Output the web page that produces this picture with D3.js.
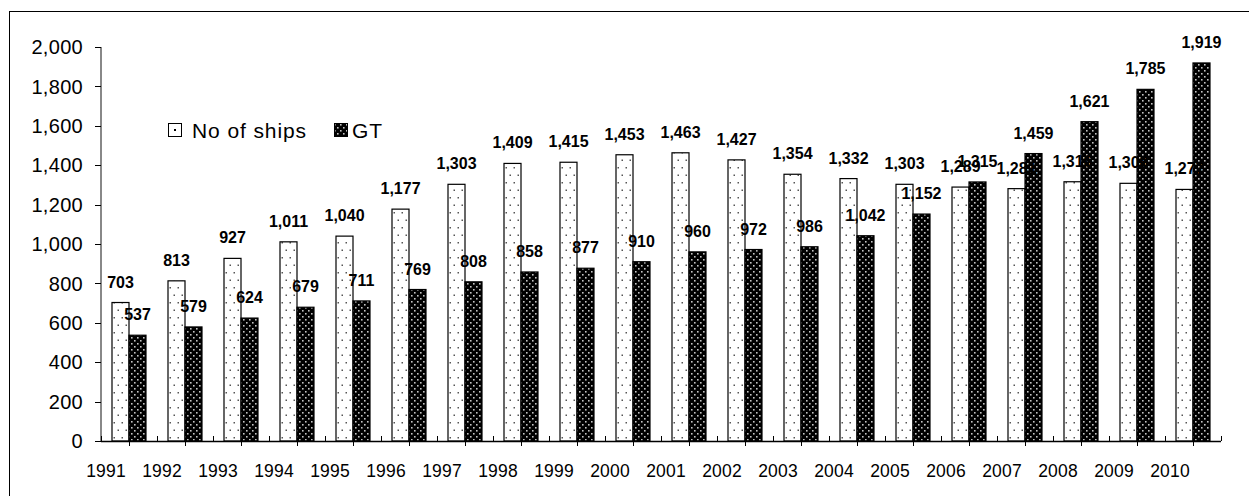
<!DOCTYPE html>
<html>
<head>
<meta charset="utf-8">
<script src="https://cdn.jsdelivr.net/npm/d3@7"></script>
<style>
  html, body { margin: 0; padding: 0; background: #fff; }
  svg { display: block; font-family: "Liberation Sans", Arial, sans-serif; }
</style>
</head>
<body>
<svg id="chart" width="1249" height="496"></svg>
<script>
// Ship registry: number of ships and gross tonnage by year
const years = ["1991","1992","1993","1994","1995","1996","1997","1998","1999","2000",
               "2001","2002","2003","2004","2005","2006","2007","2008","2009","2010"];
const ships = [703, 813, 927, 1011, 1040, 1177, 1303, 1409, 1415, 1453,
               1463, 1427, 1354, 1332, 1303, 1289, 1281, 1316, 1308, 1277];
const gt    = [537, 579, 624, 679, 711, 769, 808, 858, 877, 910,
               960, 972, 986, 1042, 1152, 1315, 1459, 1621, 1785, 1919];
const yTicks = [0, 200, 400, 600, 800, 1000, 1200, 1400, 1600, 1800, 2000];
const seriesNames = ["No of ships", "GT"];

const svg = d3.select("#chart");
const fmt = d3.format(",");

// patterns: light dotted fill and dark dotted fill
const defs = svg.append("defs");
const pLight = defs.append("pattern").attr("id", "pLight")
  .attr("patternUnits", "userSpaceOnUse").attr("width", 8).attr("height", 15);
pLight.append("rect").attr("width", 8).attr("height", 15).attr("fill", "#fff");
pLight.append("rect").attr("x", 1.5).attr("y", 2).attr("width", 1.5).attr("height", 1.5).attr("fill", "#555");
pLight.append("rect").attr("x", 5.5).attr("y", 9.5).attr("width", 1.5).attr("height", 1.5).attr("fill", "#555");

const pDark = defs.append("pattern").attr("id", "pDark")
  .attr("patternUnits", "userSpaceOnUse").attr("width", 6).attr("height", 6);
pDark.append("rect").attr("width", 6).attr("height", 6).attr("fill", "#000");
pDark.append("rect").attr("x", 1).attr("y", 1).attr("width", 1.6).attr("height", 1.6).attr("fill", "#c4c4c4");
pDark.append("rect").attr("x", 4).attr("y", 4).attr("width", 1.6).attr("height", 1.6).attr("fill", "#c4c4c4");

// outer frame
svg.append("rect").attr("x", 9.5).attr("y", 11.5).attr("width", 1400).attr("height", 700)
  .attr("fill", "none").attr("stroke", "#000").attr("stroke-width", 1);

const x0 = 101, x1 = 1221, yTop = 47, yBase = 441;
const x = d3.scaleBand().domain(years).range([x0, x1]).paddingInner(0).paddingOuter(0);
const y = d3.scaleLinear().domain([0, 2000]).range([yBase, yTop]);
const barW = 17;
const groupPad = (x.bandwidth() - 2 * barW) / 2;

// y axis
const yAxis = svg.append("g");
yAxis.append("line").attr("x1", x0).attr("x2", x0).attr("y1", yTop).attr("y2", yBase)
  .attr("stroke", "#888").attr("stroke-width", 2);
yAxis.selectAll("line.tick").data(yTicks).join("line").attr("class", "tick")
  .attr("x1", x0 - 6).attr("x2", x0).attr("y1", d => Math.round(y(d)) + 0.5).attr("y2", d => Math.round(y(d)) + 0.5)
  .attr("stroke", "#000").attr("stroke-width", 1);
yAxis.selectAll("text").data(yTicks).join("text")
  .attr("x", 83).attr("y", d => y(d)).attr("dy", "0.36em")
  .attr("text-anchor", "end").attr("font-size", 20).attr("letter-spacing", 0.3).attr("fill", "#000")
  .text(d => fmt(d));

// bars
const groups = svg.append("g").selectAll("g").data(years).join("g")
  .attr("transform", d => `translate(${x(d) + groupPad},0)`);
groups.append("rect")
  .attr("x", 0).attr("width", barW)
  .attr("y", (d, i) => y(ships[i])).attr("height", (d, i) => yBase - y(ships[i]))
  .attr("fill", "url(#pLight)").attr("stroke", "#000").attr("stroke-width", 1.2);
groups.append("rect")
  .attr("x", barW).attr("width", barW)
  .attr("y", (d, i) => y(gt[i])).attr("height", (d, i) => yBase - y(gt[i]))
  .attr("fill", "url(#pDark)").attr("stroke", "#000").attr("stroke-width", 1.2);

// x axis
const xAxis = svg.append("g");
xAxis.append("line").attr("x1", x0).attr("x2", x1).attr("y1", yBase + 0.5).attr("y2", yBase + 0.5)
  .attr("stroke", "#000").attr("stroke-width", 1.5);
const bounds = years.map(d => x(d)).concat([x1]);
xAxis.selectAll("line.up").data(bounds).join("line").attr("class", "up")
  .attr("x1", d => Math.round(d) + 0.5).attr("x2", d => Math.round(d) + 0.5)
  .attr("y1", yBase - 5).attr("y2", yBase).attr("stroke", "#000");
xAxis.selectAll("line.down").data(years).join("line").attr("class", "down")
  .attr("x1", d => Math.round(x(d) + x.bandwidth() / 2) + 0.5).attr("x2", d => Math.round(x(d) + x.bandwidth() / 2) + 0.5)
  .attr("y1", yBase).attr("y2", yBase + 5).attr("stroke", "#000");
xAxis.selectAll("text").data(years).join("text")
  .attr("x", d => x(d) + x.bandwidth() / 2 - 23).attr("y", 477)
  .attr("text-anchor", "middle").attr("font-size", 17.5).attr("letter-spacing", 0.2).attr("fill", "#000")
  .text(d => d);

// value labels
groups.append("text")
  .attr("x", barW / 2).attr("y", (d, i) => y(ships[i]) - 15)
  .attr("text-anchor", "middle").attr("font-size", 16).attr("font-weight", "bold")
  .text((d, i) => fmt(ships[i]));
groups.append("text")
  .attr("x", barW * 1.5).attr("y", (d, i) => y(gt[i]) - 15)
  .attr("text-anchor", "middle").attr("font-size", 16).attr("font-weight", "bold")
  .text((d, i) => fmt(gt[i]));

// legend
const legend = svg.append("g");
const legItems = [
  { name: seriesNames[0], fill: "#fff", x: 168, dot: "#000" },
  { name: seriesNames[1], fill: "url(#pDark)", x: 334, dot: null }
];
legItems.forEach(it => {
  legend.append("rect").attr("x", it.x + 0.5).attr("y", 123.5).attr("width", 13).attr("height", 13)
    .attr("fill", it.fill).attr("stroke", "#000").attr("stroke-width", 1);
  if (it.dot) legend.append("rect").attr("x", it.x + 6).attr("y", 129).attr("width", 2).attr("height", 2).attr("fill", it.dot);
  legend.append("text").attr("x", it.x + (it.dot ? 24 : 18)).attr("y", 137.5)
    .attr("font-size", 21).attr("letter-spacing", 0.9).attr("fill", "#000").text(it.name);
});
</script>
</body>
</html>
